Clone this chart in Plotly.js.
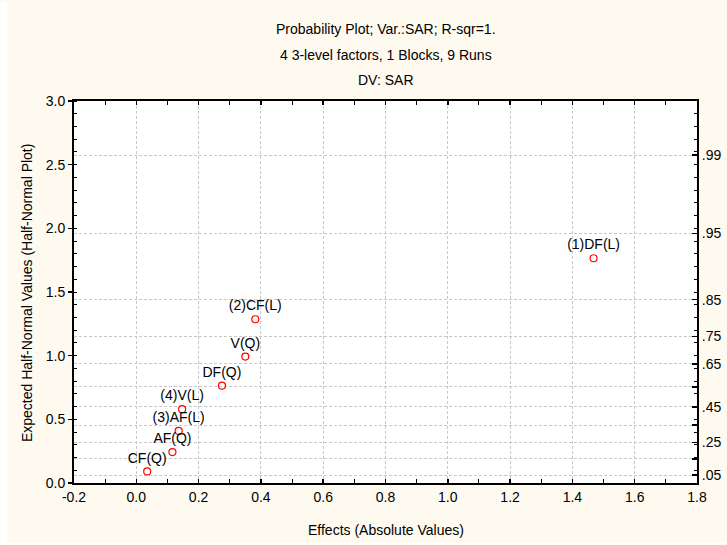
<!DOCTYPE html>
<html>
<head>
<meta charset="utf-8">
<script src="https://cdn.plot.ly/plotly-3.0.1.min.js"></script>
<style>html,body{margin:0;padding:0;background:#fff;}#chart{width:727px;height:545px;}</style>
</head>
<body>
<div id="chart"></div>
<script>
// Effect labels, absolute effects (x) and expected half-normal values (y)
const effectLabels = ["(1)DF(L)", "(2)CF(L)", "V(Q)", "DF(Q)", "(4)V(L)", "(3)AF(L)", "AF(Q)", "CF(Q)"];
const effectValues = [1.468, 0.382, 0.350, 0.275, 0.147, 0.136, 0.116, 0.035];
const expectedValues = [1.765, 1.286, 0.993, 0.764, 0.580, 0.409, 0.243, 0.091];

// Bottom axis tick values and labels (plain hyphen for the negative label)
const xTickVals = [-0.2, 0.0, 0.2, 0.4, 0.6, 0.8, 1.0, 1.2, 1.4, 1.6, 1.8];
const xTickText = ["-0.2", "0.0", "0.2", "0.4", "0.6", "0.8", "1.0", "1.2", "1.4", "1.6", "1.8"];

// Right-axis probability scale: labels and their half-normal positions
const probLabels = [".05", "", ".25", "", ".45", "", ".65", ".75", ".85", ".95", ".99"];
const probPositions = [0.0627, 0.1891, 0.3186, 0.4538, 0.5978, 0.7554, 0.9346, 1.1503, 1.4395, 1.9600, 2.5758];

const titleLines = ["Probability Plot; Var.:SAR; R-sqr=1.", "4 3-level factors, 1 Blocks, 9 Runs", "DV: SAR"];
const xTitle = "Effects (Absolute Values)";
const yTitle = "Expected Half-Normal Values (Half-Normal Plot)";

const FONT = "Liberation Sans, Arial, sans-serif";
const cream = "#fefaf0";

const traces = [
  {
    type: "scatter", mode: "markers+text",
    x: effectValues, y: expectedValues, text: effectLabels,
    textposition: "top center",
    textfont: {family: FONT, size: 14, color: "#000"},
    marker: {symbol: "circle-open", size: 7, color: "#ff0000", line: {width: 1.2, color: "#ff0000"}},
    cliponaxis: false, showlegend: false, hoverinfo: "x+y+text"
  },
  {type: "scatter", mode: "markers", x: [null], y: [null], yaxis: "y2", showlegend: false, hoverinfo: "skip"}
];

const H = 383; // plot height in px for paper conversions
function py(p) { return (483 - p) / H; }

const layout = {
  width: 727, height: 545,
  margin: {l: 73.5, r: 30, t: 100.5, b: 62, pad: 0},
  paper_bgcolor: cream, plot_bgcolor: "#ffffff",
  font: {family: FONT, size: 14, color: "#000"},
  showlegend: false,
  xaxis: {
    range: [-0.2, 1.8], tickmode: "array", tickvals: xTickVals, ticktext: xTickText,
    showgrid: true, gridcolor: "#c8c8c8", gridwidth: 1, griddash: "3px,2px",
    zeroline: false, showline: true, linecolor: "#000", linewidth: 2, mirror: "allticks",
    ticks: "inside", ticklen: 4, tickwidth: 1.5, tickcolor: "#000",
    minor: {tickmode: "linear", dtick: 0.1, tick0: 0, ticks: "inside", ticklen: 3, tickwidth: 1, tickcolor: "#000", showgrid: false},
    tickfont: {family: FONT, size: 14}, fixedrange: true
  },
  yaxis: {
    range: [0, 3], dtick: 0.5, tick0: 0, tickformat: ".1f",
    showgrid: false, zeroline: false, showline: true, linecolor: "#000", linewidth: 2, mirror: true,
    ticks: "outside", ticklen: 4, tickwidth: 1.5, tickcolor: "#000",
    minor: {dtick: 0.1, tick0: 0, ticks: "inside", ticklen: 3, tickwidth: 1, tickcolor: "#000", showgrid: false},
    tickfont: {family: FONT, size: 14}, fixedrange: true
  },
  yaxis2: {
    overlaying: "y", side: "right", range: [0, 3],
    tickmode: "array", tickvals: probPositions, ticktext: probLabels,
    showgrid: true, gridcolor: "#c8c8c8", gridwidth: 1, griddash: "3px,2px",
    zeroline: false, showline: true, linecolor: "#000", linewidth: 2,
    ticks: "inside", ticklen: 5, tickwidth: 1.5, tickcolor: "#000",
    minor: {tickmode: "linear", dtick: 0.1, tick0: 0, ticks: "inside", ticklen: 3, tickwidth: 1, tickcolor: "#000", showgrid: false},
    tickfont: {family: FONT, size: 14}, fixedrange: true
  },
  shapes: [
    {type: "rect", xref: "paper", yref: "paper", layer: "below", x0: -73.5/624, x1: -66.5/624, y0: py(545), y1: py(0), fillcolor: "#ffffff", line: {width: 0}},
    {type: "rect", xref: "paper", yref: "paper", layer: "below", x0: -73.5/624, x1: 653.5/624, y0: py(545), y1: py(543), fillcolor: "#ffffff", line: {width: 0}}
  ],
  annotations: [
    {text: titleLines[0], xref: "paper", yref: "paper", x: 0.5, y: py(28), xanchor: "center", yanchor: "middle", showarrow: false, font: {family: FONT, size: 14}},
    {text: titleLines[1], xref: "paper", yref: "paper", x: 0.5, y: py(53.5), xanchor: "center", yanchor: "middle", showarrow: false, font: {family: FONT, size: 14}},
    {text: titleLines[2], xref: "paper", yref: "paper", x: 0.5, y: py(79), xanchor: "center", yanchor: "middle", showarrow: false, font: {family: FONT, size: 14}},
    {text: xTitle, xref: "paper", yref: "paper", x: 0.5, y: py(530.5), xanchor: "center", yanchor: "middle", showarrow: false, font: {family: FONT, size: 14}},
    {text: yTitle, xref: "paper", yref: "paper", x: (27 - 73.5) / 624, y: py(292), xanchor: "center", yanchor: "middle", textangle: -90, showarrow: false, font: {family: FONT, size: 14}}
  ]
};

Plotly.newPlot("chart", traces, layout, {displayModeBar: false, staticPlot: true});
</script>
</body>
</html>
